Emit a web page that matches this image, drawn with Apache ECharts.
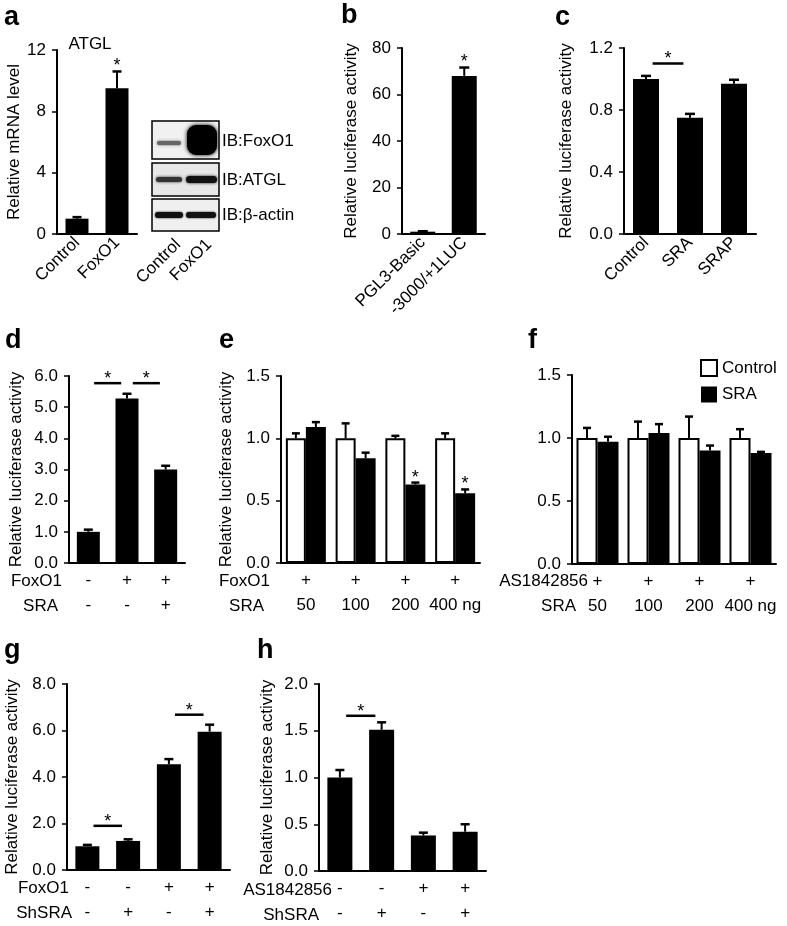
<!DOCTYPE html>
<html><head><meta charset="utf-8">
<script src="https://cdn.jsdelivr.net/npm/echarts@6/dist/echarts.min.js"></script>
<style>html,body{margin:0;padding:0;background:#fff}#chart{width:787px;height:926px}</style>
</head><body><div id="chart"></div>
<script>
// ---------- DATA ----------
// a
const aCats = ['Control', 'FoxO1'];
const aVals = [1.0, 9.5];
const aErr = [0.1, 1.1];
const aStars = [1];
// b
const bCats = ['PGL3-Basic', '-3000/+1LUC'];
const bVals = [1.0, 68.0];
const bErr = [0.2, 3.6];
const bStars = [1];
// c
const cCats = ['Control', 'SRA', 'SRAP'];
const cVals = [1.0, 0.75, 0.97];
const cErr = [0.02, 0.025, 0.025];
const cSig = [[0, 1, 1.10]];
// d
const dFoxO1 = ['-', '+', '+'];
const dSRA = ['-', '-', '+'];
const dVals = [1.0, 5.28, 3.0];
const dErr = [0.07, 0.15, 0.12];
const dSig = [[0, 1, 5.77], [1, 2, 5.77]];
// e
const eFoxO1 = ['+', '+', '+', '+'];
const eSRADose = ['50', '100', '200', '400 ng'];
const eControl = [1.0, 1.0, 1.0, 1.0];
const eControlErr = [0.04, 0.12, 0.02, 0.04];
const eSRA = [1.09, 0.84, 0.63, 0.56];
const eSRAErr = [0.04, 0.045, 0.015, 0.03];
const eStars = [2, 3];
// f
const fAS = ['+', '+', '+', '+'];
const fSRADose = ['50', '100', '200', '400 ng'];
const fControl = [1.0, 1.0, 1.0, 1.0];
const fControlErr = [0.08, 0.13, 0.17, 0.07];
const fSRA = [0.97, 1.04, 0.9, 0.88];
const fSRAErr = [0.04, 0.07, 0.04, 0.01];
// g
const gFoxO1 = ['-', '-', '+', '+'];
const gShSRA = ['-', '+', '-', '+'];
const gVals = [1.02, 1.25, 4.55, 5.95];
const gErr = [0.06, 0.07, 0.22, 0.3];
const gSig = [[0, 1, 1.9], [2, 3, 6.68]];
// h
const hAS = ['-', '-', '+', '+'];
const hShSRA = ['-', '+', '-', '+'];
const hVals = [1.0, 1.51, 0.38, 0.42];
const hErr = [0.08, 0.08, 0.03, 0.08];
const hSig = [[0, 1, 1.66]];

// ---------- HELPERS ----------
const FONT = "'Liberation Sans', Arial, sans-serif";
const BLACK = '#000';
const FS = 17;

function yAx(gi, min, max, interval, dec, name, gap) {
  return {
    type: 'value', gridIndex: gi, min, max, interval,
    name, nameLocation: 'middle', nameGap: gap,
    nameTextStyle: { fontFamily: FONT, fontSize: FS, color: BLACK },
    axisLine: { show: true, lineStyle: { color: BLACK, width: 2 } },
    axisTick: { show: true, inside: false, length: 5, lineStyle: { color: BLACK, width: 1.5 } },
    axisLabel: { fontFamily: FONT, fontSize: FS, color: BLACK, margin: 11, formatter: v => v.toFixed(dec) },
    splitLine: { show: false }
  };
}
function xAx(gi, cats, label) {
  return {
    type: 'category', gridIndex: gi, data: cats,
    axisLine: { show: true, onZero: false, lineStyle: { color: BLACK, width: 2 } },
    axisTick: { show: false },
    axisLabel: Object.assign({ fontFamily: FONT, fontSize: FS, color: BLACK, interval: 0, margin: 7 }, label)
  };
}
const rotLabel = { rotate: 45, margin: 6 };
const rowLabel = { lineHeight: 25, margin: 5 };

function bar(gi, vals, bw, name, white) {
  return {
    type: 'bar', name, xAxisIndex: gi, yAxisIndex: gi, data: vals, barWidth: bw, barGap: '0%',
    itemStyle: white ? { color: '#fff', borderColor: BLACK, borderWidth: 2 } : { color: BLACK },
    silent: true
  };
}
function errS(gi, vals, errs, offset, cap, stars) {
  stars = stars || [];
  return {
    type: 'custom', xAxisIndex: gi, yAxisIndex: gi, z: 5, silent: true,
    data: vals.map((v, i) => [i, v, errs[i]]),
    renderItem(params, api) {
      const i = api.value(0), v = api.value(1), e = api.value(2);
      const p0 = api.coord([i, v]), p1 = api.coord([i, v + e]);
      const cx = p0[0] + offset;
      const ch = [
        { type: 'line', shape: { x1: cx, y1: p0[1], x2: cx, y2: p1[1] }, style: { stroke: BLACK, lineWidth: 2 } },
        { type: 'line', shape: { x1: cx - cap / 2, y1: p1[1], x2: cx + cap / 2, y2: p1[1] }, style: { stroke: BLACK, lineWidth: 2.5 } }
      ];
      if (stars.indexOf(i) >= 0) {
        ch.push({ type: 'text', x: cx, y: p1[1] - 5, style: { text: '*', fill: BLACK, font: '18px ' + FONT, align: 'center', verticalAlign: 'middle' } });
      }
      return { type: 'group', children: ch };
    }
  };
}
function sigS(gi, sig) {
  return {
    type: 'custom', xAxisIndex: gi, yAxisIndex: gi, z: 6, silent: true,
    data: sig,
    renderItem(params, api) {
      const a = api.value(0), b = api.value(1), y = api.value(2);
      const p1 = api.coord([a, y]), p2 = api.coord([b, y]);
      const mid = (p1[0] + p2[0]) / 2, half = (p2[0] - p1[0]) * 0.35;
      return {
        type: 'group', children: [
          { type: 'line', shape: { x1: mid - half, y1: p1[1], x2: mid + half, y2: p1[1] }, style: { stroke: BLACK, lineWidth: 2.5 } },
          { type: 'text', x: mid, y: p1[1] - 4, style: { text: '*', fill: BLACK, font: '18px ' + FONT, align: 'center', verticalAlign: 'middle' } }
        ]
      };
    }
  };
}
const join2 = (r1, r2) => r1.map((v, i) => v + '\n' + r2[i]);

// ---------- GRAPHICS (labels, blot) ----------
function txt(x, y, text, size, extra) {
  return { type: 'text', x, y, style: Object.assign({ text, fill: BLACK, font: size + 'px ' + FONT, align: 'left', verticalAlign: 'middle' }, extra || {}) };
}
function letter(x, y, t) {
  return { type: 'text', x, y, style: { text: t, fill: BLACK, font: 'bold 27px ' + FONT, align: 'left', verticalAlign: 'bottom' } };
}
function band(x, y, w, h, color, blur) {
  return { type: 'rect', shape: { x, y, width: w, height: h, r: h / 2 }, style: { fill: color, shadowBlur: blur, shadowColor: color } };
}
const graphics = [
  letter(4, 31, 'a'), letter(341, 29, 'b'), letter(555, 31, 'c'),
  letter(5, 354, 'd'), letter(219, 354, 'e'), letter(528, 354, 'f'),
  letter(4, 664, 'g'), letter(257, 664, 'h'),
  txt(90, 44, 'ATGL', FS, { align: 'center' }),
  // blot boxes
  { type: 'rect', shape: { x: 152, y: 121, width: 67, height: 38 }, style: { fill: '#f1f1f1', stroke: BLACK, lineWidth: 1.5 } },
  { type: 'rect', shape: { x: 152, y: 163, width: 67, height: 33 }, style: { fill: '#e7e7e7', stroke: BLACK, lineWidth: 1.5 } },
  { type: 'rect', shape: { x: 152, y: 199, width: 67, height: 32 }, style: { fill: '#efefef', stroke: BLACK, lineWidth: 1.5 } },
  band(157, 141, 24, 4, '#666', 3),
  { type: 'rect', shape: { x: 187, y: 125, width: 30, height: 30, r: 9 }, style: { fill: '#000', shadowBlur: 4, shadowColor: '#000' } },
  band(156, 177, 26, 5, '#333', 3),
  band(186, 176, 31, 7, '#111', 3),
  band(155, 212, 28, 6, '#111', 2),
  band(186, 212, 30, 6, '#111', 2),
  txt(222, 141, 'IB:FoxO1', FS), txt(222, 180, 'IB:ATGL', FS), txt(222, 215, 'IB:β-actin', FS),
  { type: 'text', x: 178, y: 242, rotation: Math.PI / 4, style: { text: 'Control', fill: BLACK, font: FS + 'px ' + FONT, align: 'right', verticalAlign: 'middle' } },
  { type: 'text', x: 209, y: 242, rotation: Math.PI / 4, style: { text: 'FoxO1', fill: BLACK, font: FS + 'px ' + FONT, align: 'right', verticalAlign: 'middle' } },
  // row headers
  txt(62, 581, 'FoxO1', FS, { align: 'right' }), txt(58, 606, 'SRA', FS, { align: 'right' }),
  txt(270, 581, 'FoxO1', FS, { align: 'right' }), txt(264, 606, 'SRA', FS, { align: 'right' }),
  txt(588, 581, 'AS1842856', FS, { align: 'right' }), txt(576, 606, 'SRA', FS, { align: 'right' }),
  txt(69, 888, 'FoxO1', FS, { align: 'right' }), txt(72, 913, 'ShSRA', FS, { align: 'right' }),
  txt(332, 890, 'AS1842856', FS, { align: 'right' }), txt(319, 915, 'ShSRA', FS, { align: 'right' })
];

// ---------- OPTION ----------
const option = {
  animation: false,
  backgroundColor: '#fff',
  textStyle: { fontFamily: FONT },
  grid: [
    { left: 57, top: 50, width: 80, height: 184 },
    { left: 402, top: 48, width: 83, height: 186 },
    { left: 624, top: 48, width: 132, height: 186 },
    { left: 69, top: 376, width: 116, height: 187 },
    { left: 281, top: 376, width: 199, height: 187 },
    { left: 572, top: 375, width: 204, height: 189 },
    { left: 67, top: 684, width: 163, height: 186 },
    { left: 319, top: 684, width: 167, height: 187 }
  ],
  xAxis: [
    xAx(0, aCats, rotLabel),
    xAx(1, bCats, rotLabel),
    xAx(2, cCats, rotLabel),
    xAx(3, join2(dFoxO1, dSRA), rowLabel),
    xAx(4, join2(eFoxO1, eSRADose), rowLabel),
    xAx(5, join2(fAS, fSRADose), rowLabel),
    xAx(6, join2(gFoxO1, gShSRA), rowLabel),
    xAx(7, join2(hAS, hShSRA), rowLabel)
  ],
  yAxis: [
    yAx(0, 0, 12, 4, 0, 'Relative mRNA level', 27),
    yAx(1, 0, 80, 20, 0, 'Relative luciferase activity', 42),
    yAx(2, 0, 1.2, 0.4, 1, 'Relative luciferase activity', 49),
    yAx(3, 0, 6, 1, 1, 'Relative luciferase activity', 44),
    yAx(4, 0, 1.5, 0.5, 1, 'Relative luciferase activity', 46),
    yAx(5, 0, 1.5, 0.5, 1, '', 40),
    yAx(6, 0, 8, 2, 1, 'Relative luciferase activity', 46),
    yAx(7, 0, 2, 0.5, 1, 'Relative luciferase activity', 43)
  ],
  legend: {
    data: ['Control', 'SRA'], orient: 'vertical', left: 695, top: 354,
    itemWidth: 16, itemHeight: 16, itemGap: 9, icon: 'rect', selectedMode: false,
    textStyle: { fontFamily: FONT, fontSize: FS, color: BLACK }
  },
  series: [
    bar(0, aVals, 23), errS(0, aVals, aErr, 0, 9, aStars),
    bar(1, bVals, 25), errS(1, bVals, bErr, 0, 10, bStars),
    bar(2, cVals, 26), errS(2, cVals, cErr, 0, 10), sigS(2, cSig),
    bar(3, dVals, 23), errS(3, dVals, dErr, 0, 9), sigS(3, dSig),
    bar(4, eControl, 20, 'Control', true), bar(4, eSRA, 20, 'SRA'),
    errS(4, eControl, eControlErr, -10, 8), errS(4, eSRA, eSRAErr, 10, 8, eStars),
    bar(5, fControl, 21, 'Control', true), bar(5, fSRA, 21, 'SRA'),
    errS(5, fControl, fControlErr, -10.5, 8), errS(5, fSRA, fSRAErr, 10.5, 8),
    bar(6, gVals, 24), errS(6, gVals, gErr, 0, 9), sigS(6, gSig),
    bar(7, hVals, 25), errS(7, hVals, hErr, 0, 9), sigS(7, hSig)
  ],
  graphic: graphics
};
const chart = echarts.init(document.getElementById('chart'), null, { renderer: 'canvas' });
chart.setOption(option);
</script></body></html>
